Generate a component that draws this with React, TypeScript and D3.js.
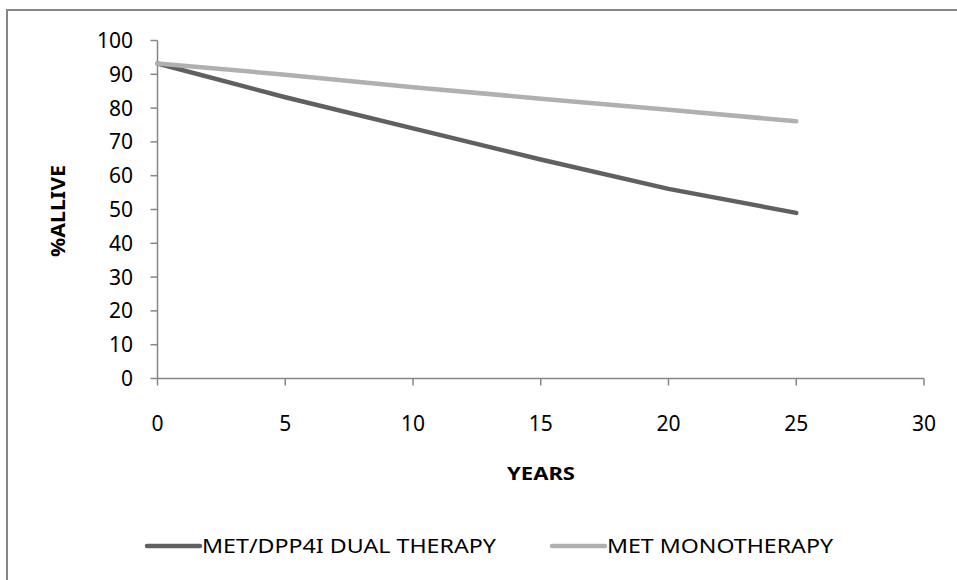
import React from "react";
import * as d3 from "d3";

const years = [0, 5, 10, 15, 20, 25];
const dualTherapy = [93.2, 83.2, 74.0, 64.8, 56.1, 49.0];
const monoTherapy = [93.2, 89.9, 86.2, 82.8, 79.5, 76.1];
const seriesNames = ["MET/DPP4I DUAL THERAPY", "MET MONOTHERAPY"];
const xTicks = [0, 5, 10, 15, 20, 25, 30];
const yTicks = [0, 10, 20, 30, 40, 50, 60, 70, 80, 90, 100];

const W = 957;
const H = 580;
const FONT = "'Noto Sans', 'Open Sans', sans-serif";
const AXIS = "#868686";
const COLORS = ["#606060", "#b0b0b0"];

export default function App() {
  const x = d3.scaleLinear().domain([0, 30]).range([157.5, 924]);
  const y = d3.scaleLinear().domain([0, 100]).range([378.5, 40.5]);
  const line = d3
    .line<number>()
    .x((_, i) => x(years[i]))
    .y((d) => y(d));
  const series = [dualTherapy, monoTherapy];
  const legendX = [147, 552];
  const legendTextLen = [294, 226];

  return (
    <svg
      width={W}
      height={H}
      style={{ position: "absolute", left: 0, top: 0, background: "#fff" }}
      fontFamily={FONT}
    >
      <rect x={7} y={10} width={W + 10} height={H + 10} fill="#fff" stroke={AXIS} strokeWidth={2} />
      {/* y axis */}
      <line x1={x(0)} x2={x(0)} y1={y(0)} y2={y(100)} stroke={AXIS} strokeWidth={1.5} />
      {yTicks.map((t) => (
        <g key={"y" + t}>
          <line x1={x(0) - 7} x2={x(0)} y1={y(t)} y2={y(t)} stroke={AXIS} strokeWidth={1.5} />
          <text x={133} y={y(t)} dy="0.36em" textAnchor="end" fontSize={21} fill="#000">
            {t}
          </text>
        </g>
      ))}
      {/* x axis */}
      <line x1={x(0)} x2={x(30)} y1={y(0)} y2={y(0)} stroke={AXIS} strokeWidth={1.5} />
      {xTicks.map((t) => (
        <g key={"x" + t}>
          <line x1={x(t)} x2={x(t)} y1={y(0)} y2={y(0) + 7} stroke={AXIS} strokeWidth={1.5} />
          <text x={x(t)} y={423} dy="0.36em" textAnchor="middle" fontSize={21} fill="#000">
            {t}
          </text>
        </g>
      ))}
      {series.map((s, i) => (
        <path
          key={"s" + i}
          d={line(s) || ""}
          fill="none"
          stroke={COLORS[i]}
          strokeWidth={4.5}
          strokeLinecap="round"
          strokeLinejoin="round"
        />
      ))}
      <text x={541} y={474} dy="0.36em" textAnchor="middle" fontSize={18} fontWeight="bold" fill="#000" textLength={68} lengthAdjust="spacingAndGlyphs">
        YEARS
      </text>
      <text
        transform={`translate(58,${211}) rotate(-90)`}
        dy="0.36em"
        textAnchor="middle"
        fontSize={19}
        fontWeight="bold"
        fill="#000"
        textLength={92}
        lengthAdjust="spacingAndGlyphs"
      >
        %ALLIVE
      </text>
      {seriesNames.map((n, i) => (
        <g key={"l" + i}>
          <line
            x1={legendX[i]}
            x2={legendX[i] + 53}
            y1={546}
            y2={546}
            stroke={COLORS[i]}
            strokeWidth={4.5}
            strokeLinecap="round"
          />
          <text
            x={legendX[i] + 55}
            y={546}
            dy="0.36em"
            fontSize={20}
            fill="#000"
            textLength={legendTextLen[i]}
            lengthAdjust="spacingAndGlyphs"
          >
            {n}
          </text>
        </g>
      ))}
    </svg>
  );
}
